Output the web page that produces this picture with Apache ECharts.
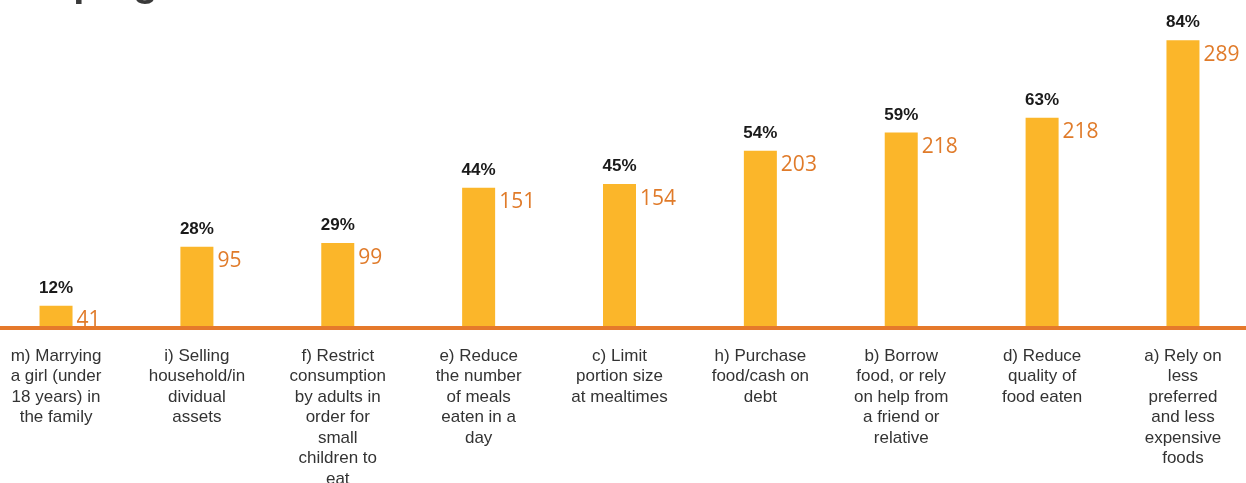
<!DOCTYPE html>
<html>
<head>
<meta charset="utf-8">
<script src="https://cdn.jsdelivr.net/npm/echarts@6/dist/echarts.min.js"></script>
<style>
html,body{margin:0;padding:0;background:#fff;}
#chart{width:1246px;height:483px;}
</style>
</head>
<body>
<div id="chart"></div>
<script>
var titleText = 'Coping mechanisms';
var categories = [
  'm) Marrying\na girl (under\n18 years) in\nthe family',
  'i) Selling\nhousehold/in\ndividual\nassets',
  'f) Restrict\nconsumption\nby adults in\norder for\nsmall\nchildren to\neat',
  'e) Reduce\nthe number\nof meals\neaten in a\nday',
  'c) Limit\nportion size\nat mealtimes',
  'h) Purchase\nfood/cash on\ndebt',
  'b) Borrow\nfood, or rely\non help from\na friend or\nrelative',
  'd) Reduce\nquality of\nfood eaten',
  'a) Rely on\nless\npreferred\nand less\nexpensive\nfoods'
];
var percentages = [12, 28, 29, 44, 45, 54, 59, 63, 84];
var counts = [41, 95, 99, 151, 154, 203, 218, 218, 289];

var chart = echarts.init(document.getElementById('chart'), null, {renderer: 'canvas'});
chart.setOption({
  animation: false,
  backgroundColor: '#ffffff',
  title: {
    text: titleText,
    left: 15,
    top: -40,
    textStyle: {fontFamily: 'Liberation Sans', fontSize: 40, fontWeight: 'bold', color: '#3a3a3a'}
  },
  grid: {left: -14.4, right: -7.4, top: 18, bottom: 155, containLabel: false, outerBoundsMode: 'none'},
  xAxis: {
    type: 'category',
    data: categories,
    z: 5,
    axisLine: {lineStyle: {color: '#E5792B', width: 4}},
    axisTick: {show: false},
    axisLabel: {
      interval: 0,
      margin: 18,
      fontFamily: 'Liberation Sans',
      fontSize: 17,
      lineHeight: 20.5,
      color: '#333333',
      align: 'center',
      verticalAlign: 'top',
      hideOverlap: false
    }
  },
  yAxis: {
    type: 'value',
    min: 6,
    max: 90,
    show: false,
    splitLine: {show: false}
  },
  series: [
    {
      type: 'bar',
      data: percentages,
      barWidth: 33,
      clip: true,
      itemStyle: {color: '#FBB62A'},
      label: {
        show: true,
        position: 'top',
        distance: 9,
        formatter: function (p) { return p.value + '%'; },
        fontFamily: 'Liberation Sans',
        fontWeight: 'bold',
        fontSize: 17,
        color: '#1a1a1a'
      }
    },
    {
      type: 'bar',
      data: percentages,
      barWidth: 33,
      barGap: '-100%',
      clip: true,
      itemStyle: {color: 'rgba(0,0,0,0)'},
      label: {
        show: true,
        position: [37, 4],
        align: 'left',
        verticalAlign: 'top',
        formatter: function (p) { return String(counts[p.dataIndex]); },
        fontFamily: 'Open Sans',
        fontSize: 21,
        color: '#E07B2A'
      }
    }
  ]
});
</script>
</body>
</html>
